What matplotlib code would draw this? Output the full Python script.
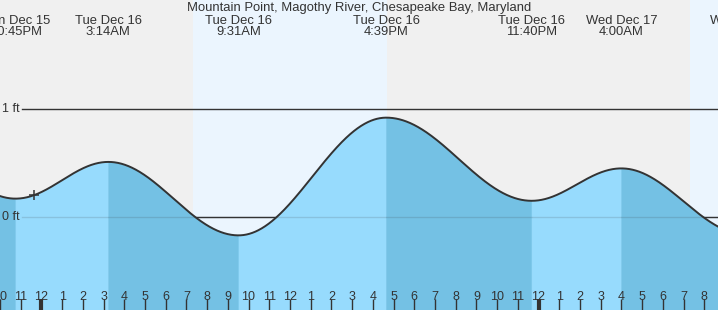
import numpy as np
import matplotlib
matplotlib.use("Agg")
import matplotlib.pyplot as plt
import matplotlib.transforms as mtransforms

plt.rcParams['font.family'] = ['Liberation Sans', 'DejaVu Sans']

# ---- data (hours relative to Tue Dec 16 00:00) ----
title = "Mountain Point, Magothy River, Chesapeake Bay, Maryland"
event_hours = [-7.5, -1.25, 3.233, 9.517, 16.65, 23.667, 28.0, 34.0]
event_heights = [0.85, 0.17, 0.51, -0.17, 0.92, 0.15, 0.45, -0.16]
event_labels = ["Mon Dec 15\n4:30PM", "Mon Dec 15\n10:45PM", "Tue Dec 16\n3:14AM",
                "Tue Dec 16\n9:31AM", "Tue Dec 16\n4:39PM", "Tue Dec 16\n11:40PM",
                "Wed Dec 17\n4:00AM", "Wed Dec 17\n10:00AM"]
day_starts = [7.30, 31.30]
day_ends = [16.70, 40.70]
now_hour = -0.35
tick_hours = list(range(-2, 33))
midnight_hours = [0, 24]
ft_levels = [0, 1]

# ---- colours ----
night_bg = '#f0f0f0'
day_bg = '#ebf5fe'
rise_col = '#97dbfd'
fall_col = '#74c1e4'
ink = '#333333'

W, H = 718, 310
x0, x1 = -37.5 / 20.833, (W - 37.5) / 20.833
y_bot, y_top = -93 / 108.0, 217 / 108.0

fig = plt.figure(figsize=(W / 100, H / 100), dpi=100)
ax = fig.add_axes([0, 0, 1, 1])
ax.set_xlim(x0, x1)
ax.set_ylim(y_bot, y_top)
ax.set_facecolor(night_bg)
for s in ax.spines.values():
    s.set_visible(False)

for a, b in zip(day_starts, day_ends):
    ax.axvspan(a, b, color=day_bg, lw=0, zorder=0)

# zero line beneath water
ax.axhline(0, xmin=22 / W, color=ink, lw=1, zorder=1)

# tide curve by cosine interpolation between extremes, segment by segment
all_t, all_h = [], []
for i in range(len(event_hours) - 1):
    a, b = event_hours[i], event_hours[i + 1]
    ha, hb = event_heights[i], event_heights[i + 1]
    ts = np.linspace(a, b, 300)
    f = (ts - a) / (b - a)
    hs = hb + (ha - hb) * (1 + np.cos(np.pi * f)) / 2
    rising = hb > ha
    ax.fill_between(ts, y_bot, hs, color=rise_col if rising else fall_col,
                    lw=0.6, edgecolor=rise_col if rising else fall_col, zorder=2)
    all_t.append(ts)
    all_h.append(hs)
t = np.concatenate(all_t)
h = np.concatenate(all_h)

ax.axhline(0, xmin=22 / W, color=ink, lw=1, alpha=0.15, zorder=3)
ax.axhline(1, xmin=22 / W, color=ink, lw=1, zorder=3)
ax.plot(t, h, color=ink, lw=1.4, zorder=4)

now_h = np.interp(now_hour, t, h)
ax.plot([now_hour], [now_h], marker='+', ms=6.5, mew=1.1, color=ink, zorder=5)

# ft labels
ylab_tr = mtransforms.blended_transform_factory(fig.transFigure, ax.transData)
for lv in ft_levels:
    ax.text(2.5 / W, lv, f"{lv} ft", transform=ylab_tr, ha='left', va='center',
            fontsize=9, color=ink, zorder=6)

# event labels
ev_tr = mtransforms.blended_transform_factory(ax.transData, ax.transAxes)
for hr, lab in zip(event_hours, event_labels):
    if x0 - 3 < hr < x1 + 3:
        ax.text(hr, 1 - 26.5 / H, lab, transform=ev_tr, ha='center', va='center',
                fontsize=9.4, color=ink, linespacing=0.98, zorder=6)

fig.text(0.5, 1 - 7.5 / H, title, ha='center', va='center', fontsize=9.4, color=ink)

# hour ticks
ax.set_xticks(tick_hours)
ax.set_xticklabels([str((hh % 12) or 12) for hh in tick_hours])
ax.xaxis.remove_overlapping_locs = False
ax.set_xticks(midnight_hours, minor=True)
ax.tick_params(axis='x', which='major', direction='in', length=8, width=1,
               color=ink, labelcolor=ink, labelsize=9, pad=-14)
ax.tick_params(axis='x', which='minor', direction='in', length=8, width=3,
               color=ink)
ax.set_axisbelow(False)
ax.set_yticks([])

fig.savefig("out.png", dpi=100)
